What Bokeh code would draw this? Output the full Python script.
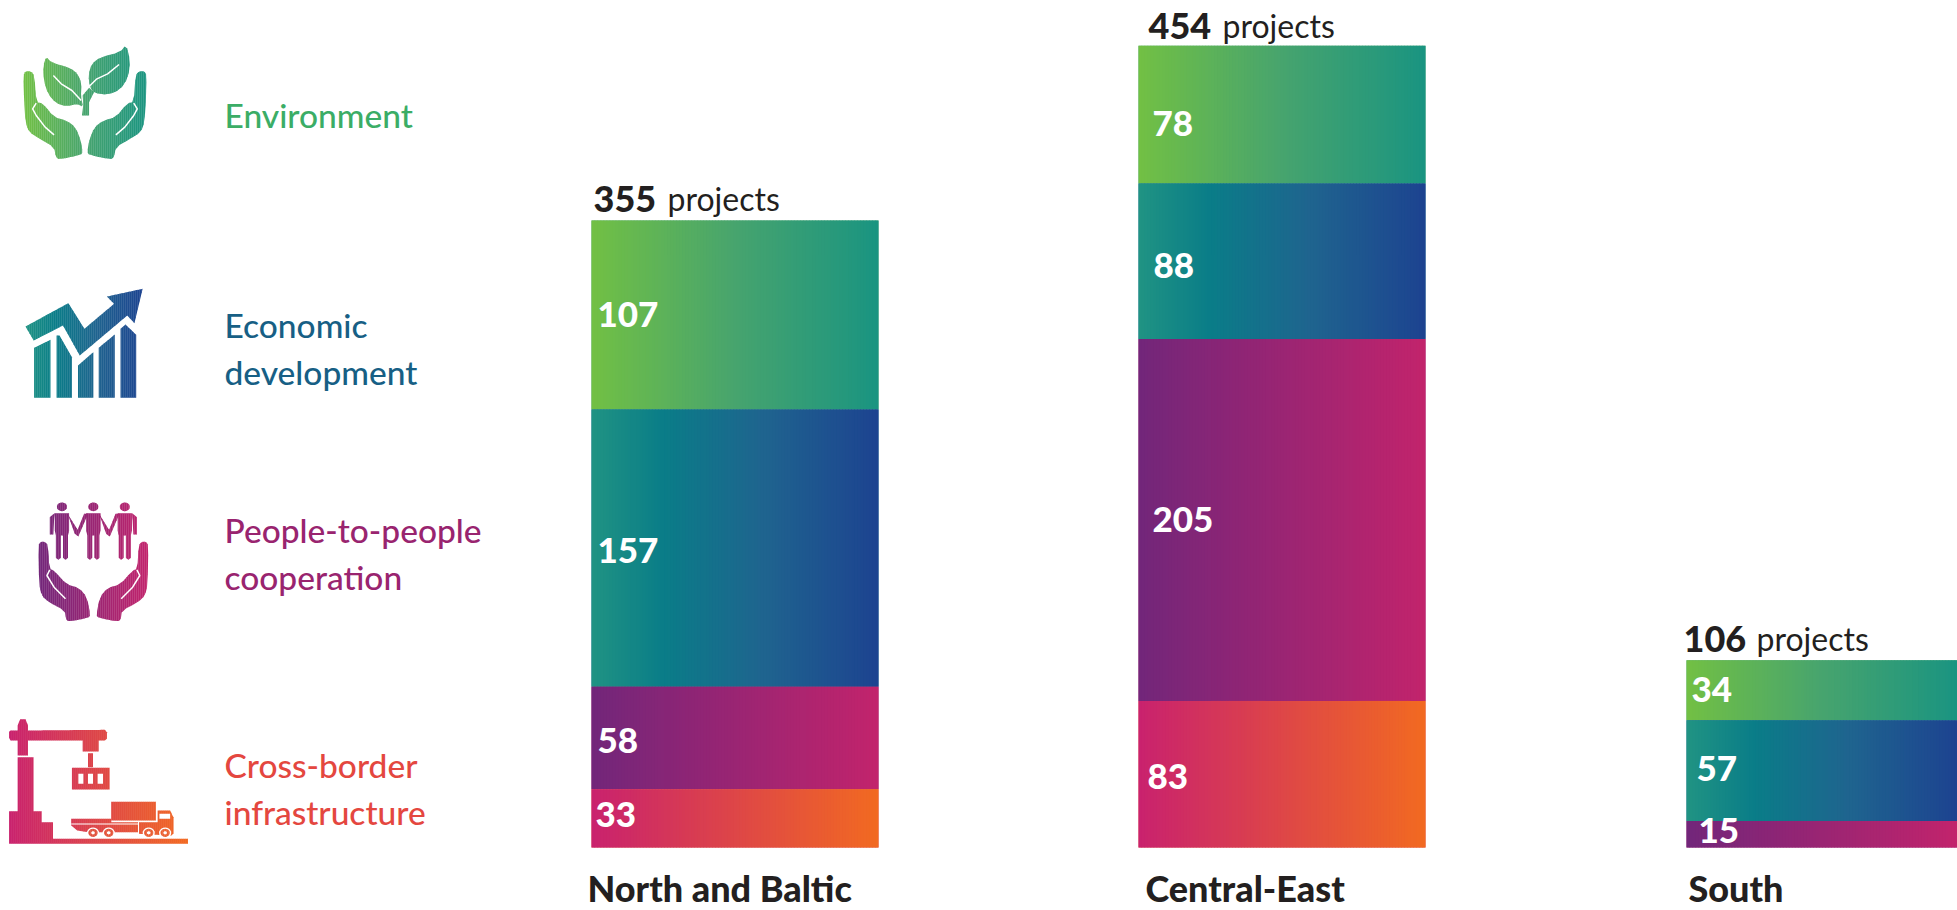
import math
from bokeh.plotting import figure
from bokeh.models import Range1d
from bokeh.core.properties import value
from bokeh.embed import file_html
from bokeh.resources import INLINE

# ---- data
regions = ["North and Baltic", "Central-East", "South"]
totals = [355, 454, 106]
environment = [107, 78, 34]
economic = [157, 88, 57]
people = [58, 205, 15]
infrastructure = [33, 83, 0]
theme_names = [["Environment"], ["Economic", "development"], ["People-to-people", "cooperation"], ["Cross-border", "infrastructure"]]

# ---- styling / layout
FONT = value("Lato Medium, Lato")
FONT_REG = value("Lato")
FONT_HEAVY = value("Lato Black, Lato")
W, H = 1957, 910
PX_PER = 1.766
BASE = 847
SHIFT = -12  # alphabetic baseline correction
SX, SY = 2.8, 3.0  # icon outline units per pixel
bar_left = [591, 1138, 1686]
bar_right = [878, 1425, 1957]
region_x = [587, 1145, 1688]
head_x = [593, 1148, 1683]
head2_x = [667, 1222, 1756]
head_base = [210, 37, 650]
label_x = [[597, 597, 597, 595], [1152, 1153, 1152, 1147], [1691, 1696, 1698, 0]]
label_dy = [[-1, 2, 2, -4], [9, 4, 0, 2], [-1, -2, -4, 0]]
grads = [
    [(0, "#72C044"), (0.5, "#47A46E"), (1, "#1A9481")],
    [(0, "#209383"), (0.25, "#0A7D88"), (0.6, "#1F648F"), (1, "#1D4390")],
    [(0, "#72267A"), (1, "#C2246C")],
    [(0, "#C9226E"), (1, "#F26A21")],
]
text_cols = ["#3BAD66", "#175F85", "#99246F", "#E4473F"]
text_pos = [[126], [336, 383], [541, 588], [776, 823]]


def hexrgb(h):
    return [int(h[i:i + 2], 16) for i in (1, 3, 5)]


def gcol(stops, t):
    t = max(0, min(1, t))
    for (a, ca), (b, cb) in zip(stops, stops[1:]):
        if t <= b:
            f = (t - a) / (b - a)
            ra, rb = hexrgb(ca), hexrgb(cb)
            return "#%02x%02x%02x" % tuple(round(x + (y - x) * f) for x, y in zip(ra, rb))
    return stops[-1][1]


p = figure(width=W, height=H, output_backend="svg", toolbar_location=None,
           x_range=Range1d(0, W),
           y_range=Range1d(-(H - BASE) / PX_PER, BASE / PX_PER),
           x_axis_type=None, y_axis_type=None, min_border=0,
           background_fill_color="white", border_fill_color="white", outline_line_color=None)
p.grid.visible = False
p.extra_y_ranges = {"px": Range1d(H, 0)}

# ---- stacked bars with horizontal gradient
series = [environment, economic, people, infrastructure]
for i in range(3):
    top = totals[i]
    for s, vals in enumerate(series):
        v = vals[i]
        if v == 0:
            continue
        bot = top - v
        L, R = bar_left[i], bar_right[i]
        p.quad(left=[L], right=[R], top=[top], bottom=[bot], fill_color=gcol(grads[s], 0.5), line_color=None)
        n = (R - L) // 3
        lefts = [L + (R - L) * k / n for k in range(n)]
        rights = [min(R, L + (R - L) * (k + 1) / n + 0.6) for k in range(n)]
        cols = [gcol(grads[s], (k + 0.5) / n) for k in range(n)]
        p.quad(left=lefts, right=rights, top=[top] * n, bottom=[bot] * n, fill_color=cols, line_color=None)
        p.text(x=[label_x[i][s]], y=[(top + bot) / 2], text=[str(v)], y_offset=[label_dy[i][s]],
               text_font=FONT_HEAVY, text_font_size="35px", text_color="white",
               text_baseline="middle", text_align="left")
        top = bot

# ---- headers and region names
for i in range(3):
    p.text(x=[head_x[i]], y=[head_base[i] + SHIFT], text=[str(totals[i])], y_range_name="px", text_font=FONT_HEAVY,
           text_font_size="36px", text_color="#231F20", text_baseline="alphabetic")
    p.text(x=[head2_x[i]], y=[head_base[i] + SHIFT], text=["projects"], y_range_name="px", text_font=FONT_REG,
           text_font_size="32px", text_color="#231F20", text_baseline="alphabetic")
    p.text(x=[region_x[i]], y=[908 + SHIFT - 9], text=[regions[i]], y_range_name="px", text_font=FONT_HEAVY,
           text_font_size="36px", text_color="#231F20", text_baseline="alphabetic")

# ---- theme names
for names, ys, c in zip(theme_names, text_pos, text_cols):
    for n, y in zip(names, ys):
        p.text(x=[224], y=[y + SHIFT], text=[n], y_range_name="px", text_font=FONT, text_font_size="33.5px",
               text_color=c, text_baseline="alphabetic")


# ---- icons (decoration)
def smooth(pts, it=2):
    for _ in range(it):
        out = []
        for j in range(len(pts)):
            a, b = pts[j], pts[(j + 1) % len(pts)]
            out.append((0.75 * a[0] + 0.25 * b[0], 0.75 * a[1] + 0.25 * b[1]))
            out.append((0.25 * a[0] + 0.75 * b[0], 0.25 * a[1] + 0.75 * b[1]))
        pts = out
    return pts


def clip(pts, x0, x1):
    def half(ps, keep, cross):
        out = []
        for j in range(len(ps)):
            a, b = ps[j], ps[(j + 1) % len(ps)]
            if keep(a):
                out.append(a)
            if keep(a) != keep(b):
                out.append(cross(a, b))
        return out

    def cr(xv):
        return lambda a, b: (xv, a[1] + (b[1] - a[1]) * (xv - a[0]) / (b[0] - a[0]))

    pts = half(pts, lambda q: q[0] >= x0, cr(x0))
    if pts:
        pts = half(pts, lambda q: q[0] <= x1, cr(x1))
    return pts


def circ(cx, cy, r, n=20):
    return [(cx + r * math.cos(2 * math.pi * k / n), cy + r * SX / SY * math.sin(2 * math.pi * k / n)) for k in range(n)]


def rect(x0, y0, x1, y1):
    return [(x0, y0), (x1, y0), (x1, y1), (x0, y1)]


def mirror(pts, m):
    return [(m - x, y) for x, y in pts]


def tr(pts, dy=0):
    return [(x / SX, (y + dy) / SY) for x, y in pts]


def draw_icon(polys, stops, xa, xb, whites=(), wlines=(), dy=0):
    xs, ys, cs = [], [], []
    x = xa / SX
    step = 2.0
    while x < xb / SX:
        c = gcol(stops, (x + step / 2 - xa / SX) / ((xb - xa) / SX))
        for pl in polys:
            q = clip(tr(pl, dy), x, x + step + 0.3)
            if len(q) >= 3:
                xs.append([a[0] for a in q])
                ys.append([a[1] for a in q])
                cs.append(c)
        x += step
    p.patches(xs, ys, fill_color=cs, line_color=None, y_range_name="px")
    if whites:
        w = [tr(q, dy) for q in whites]
        p.patches([[a[0] for a in q] for q in w], [[a[1] for a in q] for q in w],
                  fill_color="white", line_color=None, y_range_name="px")
    for ln in wlines:
        q = tr(ln, dy)
        p.line([a[0] for a in q], [a[1] for a in q], line_color="white", line_width=1.5, y_range_name="px")


hand1 = smooth([(64, 225), (70, 212), (85, 212), (95, 225), (100, 305), (118, 308), (150, 350), (185, 360), (210, 380),
                (225, 420), (230, 455), (225, 463), (165, 477), (155, 470), (150, 440), (110, 415), (80, 395), (70, 365),
                (66, 300)], 1)
lline = [(100, 308), (90, 325), (100, 345), (125, 380), (150, 403)]
leafL = smooth([(128, 168), (142, 186), (195, 202), (216, 220), (227, 248), (225, 290), (232, 320), (215, 310),
                (185, 318), (155, 308), (133, 280), (121, 240), (120, 195)], 1)
stem = [(232, 312), (228, 345), (248, 345), (248, 305), (262, 275), (248, 262), (230, 285)]
leafR = smooth([(352, 132), (335, 155), (280, 170), (255, 190), (246, 225), (250, 258), (262, 278), (300, 283),
                (335, 268), (358, 230), (363, 180)], 1)
draw_icon([hand1, mirror(hand1, 473), leafL, stem, leafR], grads[0], 64, 409,
          wlines=[lline, mirror(lline, 473), [(148, 225), (170, 250), (200, 270), (226, 300)],
                  [(332, 192), (300, 220), (270, 235), (248, 258)]])

arrow = [(70, 978), (190, 908), (235, 985), (318, 910), (298, 888), (398, 865), (375, 968), (355, 945), (222, 1065),
         (175, 975), (93, 1020)]
bars2 = [[(94, 1042), (140, 1018), (140, 1192), (94, 1192)],
         [(157, 1005), (165, 1005), (200, 1070), (200, 1192), (157, 1192)],
         [(217, 1095), (260, 1055), (260, 1192), (217, 1192)],
         [(275, 1042), (320, 1002), (320, 1192), (275, 1192)],
         [(336, 985), (350, 972), (380, 1003), (380, 1192), (336, 1192)]]
draw_icon([arrow] + bars2, grads[1], 70, 398)

hand3 = smooth([(106, 285), (112, 274), (125, 274), (133, 285), (137, 355), (150, 360), (185, 402), (220, 412),
                (242, 440), (252, 495), (245, 502), (190, 514), (183, 505), (180, 480), (135, 455), (115, 435),
                (108, 400)], 1)
line3 = [(138, 358), (130, 375), (150, 410), (182, 445)]
ppl = []
for cx in (172, 260, 348):
    ppl.append(circ(cx, 169, 14))
    ppl.append([(cx - 20, 188), (cx + 20, 188), (cx + 20, 240), (cx + 17, 255), (cx + 17, 322), (cx + 10, 328), (cx + 3, 322),
                (cx + 3, 255), (cx - 3, 255), (cx - 3, 322), (cx - 10, 328), (cx - 17, 322), (cx - 17, 255), (cx - 20, 240)])
for o in (0, 88):
    ppl.append([(188 + o, 190), (216 + o, 238), (234 + o, 190), (245 + o, 190), (218 + o, 258), (208 + o, 250)])
ppl.append([(152, 188), (138, 200), (138, 252), (148, 252), (150, 210)])
ppl.append([(368, 188), (382, 200), (382, 252), (372, 252), (370, 210)])
draw_icon([hand3, mirror(hand3, 520)] + ppl, grads[2], 106, 414,
          wlines=[line3, mirror(line3, 520)], dy=1350)

crane = [(48, 825), (55, 806), (70, 806), (77, 825), (77, 840), (292, 838), (298, 845), (298, 865), (292, 870), (275, 870),
         (275, 903), (230, 903), (230, 870), (77, 870), (77, 915), (48, 915), (48, 870), (28, 870), (23, 860), (23, 845),
         (28, 840), (48, 840)]
tower = [(48, 920), (92, 920), (92, 1082), (115, 1082), (115, 1115), (147, 1115), (147, 1165), (525, 1165), (525, 1180),
         (24, 1180), (24, 1082), (48, 1082)]
hook = rect(245, 908, 259, 950)
cont = rect(200, 952, 305, 1017)
box = rect(310, 1054, 435, 1110)
trailer = [(198, 1105), (310, 1105), (310, 1115), (385, 1115), (385, 1145), (245, 1145), (215, 1140), (198, 1125)]
cab = [(388, 1115), (440, 1115), (440, 1080), (475, 1080), (484, 1100), (484, 1150), (478, 1155), (388, 1150)]
wheel_x = [259, 303, 415, 461]
whites4 = [rect(218, 970, 232, 1000), rect(245, 970, 259, 1000), rect(272, 970, 287, 1000),
           rect(445, 1090, 475, 1105), rect(198, 1119, 385, 1122)] + [circ(x, 1147, 17) for x in wheel_x]
draw_icon([crane, tower, hook, cont, box, trailer, cab], grads[3], 24, 525, whites=whites4, dy=1350)
# wheel hubs
draw_icon([circ(x, 1147, 13) for x in wheel_x], [(0, "#E0503F"), (1, "#EC6330")], 240, 480,
          whites=[circ(x, 1147, 5) for x in wheel_x], dy=1350)

open("out.html", "w").write(file_html(p, INLINE))
